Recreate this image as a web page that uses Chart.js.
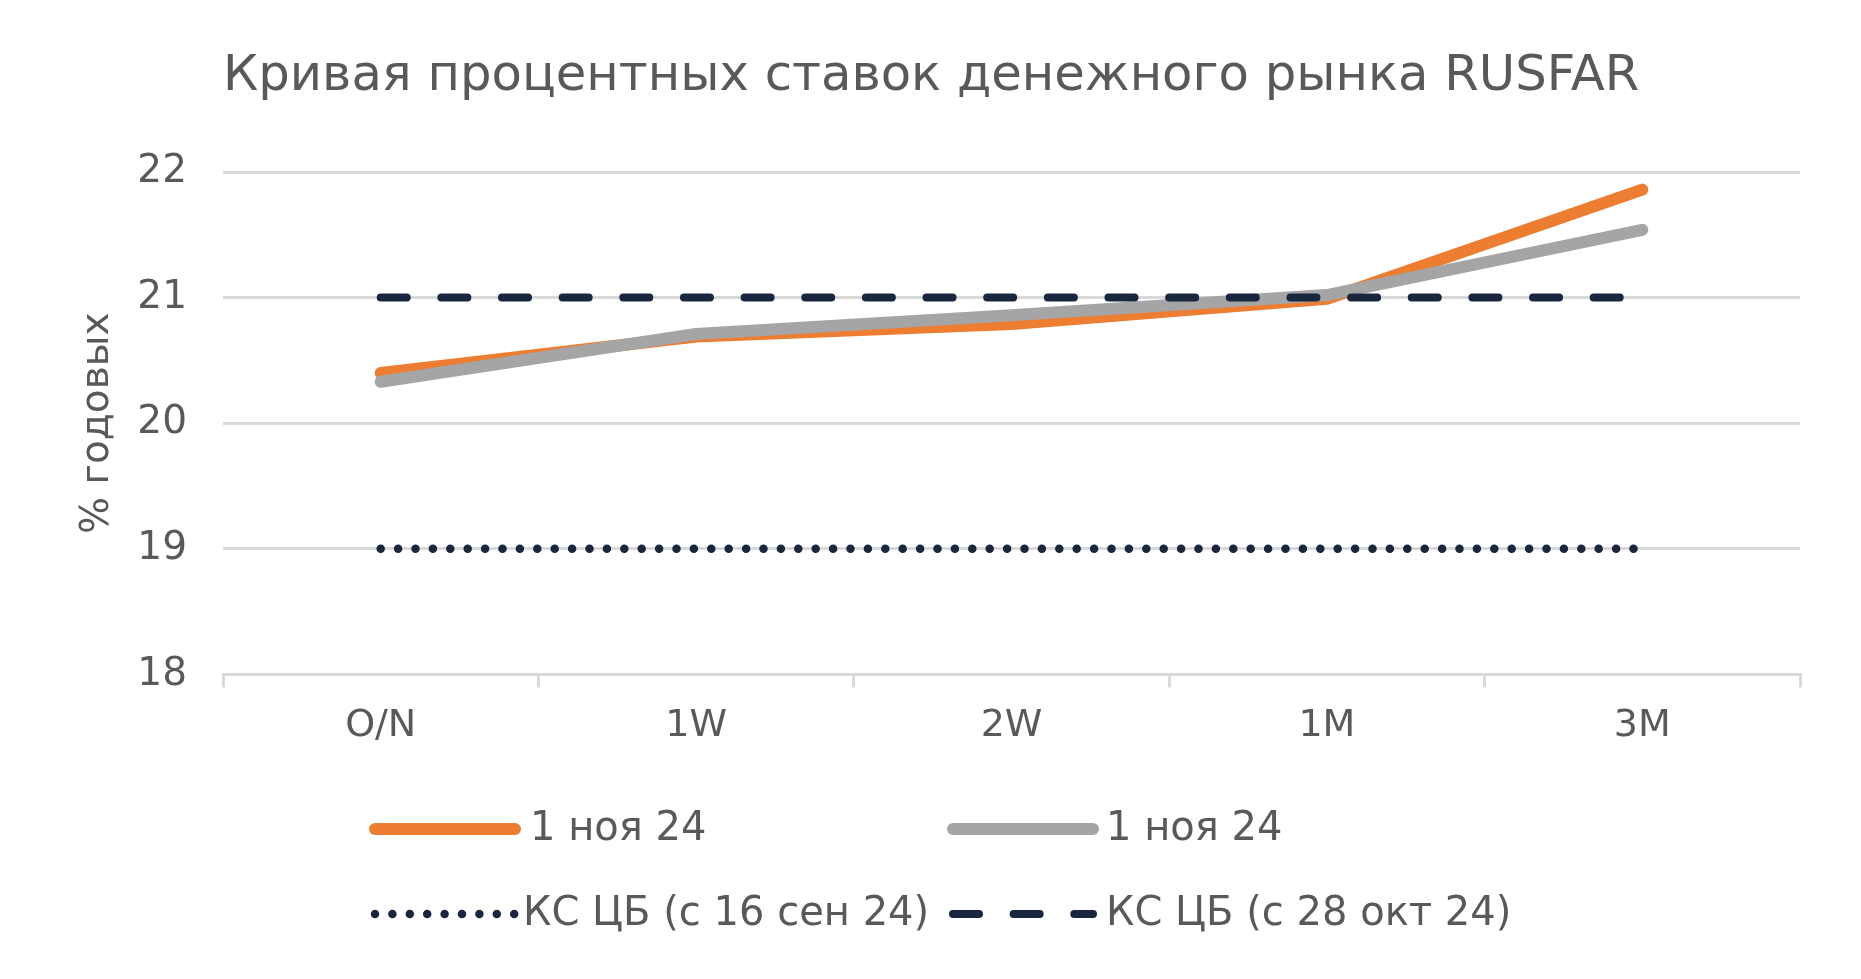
<!DOCTYPE html>
<html lang="ru">
<head>
<meta charset="utf-8">
<title>Кривая процентных ставок денежного рынка RUSFAR</title>
<script src="https://cdn.jsdelivr.net/npm/chart.js@4/dist/chart.umd.min.js"></script>
<style>
  html, body { margin: 0; padding: 0; background: #ffffff; }
  #wrap { width: 1861px; height: 979px; }
</style>
</head>
<body>
<div id="wrap"><canvas id="rusfarChart"></canvas></div>
<script>
const tenors = ['O/N', '1W', '2W', '1M', '3M'];
const rusfarNov1a = [20.40, 20.69, 20.79, 20.99, 21.86];
const rusfarNov1b = [20.33, 20.71, 20.86, 21.02, 21.54];
const keyRateSep16 = [19, 19, 19, 19, 19];
const keyRateOct28 = [21, 21, 21, 21, 21];
const yTicks = [18, 19, 20, 21, 22];

const titleText = 'Кривая процентных ставок денежного рынка RUSFAR';
const textColor = '#595959';
const gridColor = '#d9d9d9';
const navy = '#18263e';
const fontFamily = '"DejaVu Sans", sans-serif';

// legend is a 2x2 grid under the plot, in dataset order
const legendSlots = [
  { x: 375, y: 829, textX: 530 },
  { x: 953, y: 829, textX: 1106 },
  { x: 375, y: 914, textX: 523 },
  { x: 953, y: 914, textX: 1106 }
];

const areaTitle = {
  id: 'areaTitle',
  afterDraw(chart) {
    const ctx = chart.ctx;
    ctx.save();
    ctx.fillStyle = textColor;
    ctx.font = '49.7px ' + fontFamily;
    ctx.textBaseline = 'middle';
    ctx.textAlign = 'left';
    ctx.fillText(titleText, chart.chartArea.left, 77);
    ctx.restore();
  }
};

const gridLegend = {
  id: 'gridLegend',
  afterDraw(chart) {
    const ctx = chart.ctx;
    chart.data.datasets.forEach((ds, i) => {
      const slot = legendSlots[i];
      ctx.save();
      ctx.strokeStyle = ds.borderColor;
      ctx.lineWidth = ds.borderWidth;
      ctx.lineCap = ds.borderCapStyle;
      ctx.setLineDash(ds.borderDash || []);
      ctx.beginPath();
      ctx.moveTo(slot.x, slot.y);
      ctx.lineTo(slot.x + 140, slot.y);
      ctx.stroke();
      ctx.setLineDash([]);
      ctx.fillStyle = textColor;
      ctx.font = '40px ' + fontFamily;
      ctx.textBaseline = 'middle';
      ctx.fillText(ds.label, slot.textX, slot.y + 1);
      ctx.restore();
    });
  }
};

new Chart(document.getElementById('rusfarChart'), {
  type: 'line',
  data: {
    labels: tenors,
    datasets: [
      {
        label: '1 ноя 24',
        data: rusfarNov1a,
        borderColor: '#ed7d31',
        borderWidth: 12,
        borderCapStyle: 'round',
        borderJoinStyle: 'round',
        order: 2
      },
      {
        label: '1 ноя 24',
        data: rusfarNov1b,
        borderColor: '#a5a5a5',
        borderWidth: 12,
        borderCapStyle: 'round',
        borderJoinStyle: 'round',
        order: 1
      },
      {
        label: 'КС ЦБ (с 16 сен 24)',
        data: keyRateSep16,
        borderColor: navy,
        borderWidth: 8.5,
        borderCapStyle: 'round',
        borderDash: [0, 17.4],
        order: 3
      },
      {
        label: 'КС ЦБ (с 28 окт 24)',
        data: keyRateOct28,
        borderColor: navy,
        borderWidth: 8,
        borderCapStyle: 'round',
        borderDash: [26, 34.65],
        order: 0
      }
    ]
  },
  options: {
    responsive: true,
    maintainAspectRatio: false,
    animation: false,
    elements: {
      point: { radius: 0, hoverRadius: 0 },
      line: { tension: 0, fill: false }
    },
    layout: {
      padding: { top: 172, right: 61, bottom: 214, left: 55 }
    },
    plugins: {
      legend: { display: false },
      title: { display: false },
      tooltip: { enabled: false }
    },
    scales: {
      x: {
        offset: true,
        grid: {
          offset: true,
          drawOnChartArea: false,
          drawTicks: true,
          tickLength: 13,
          color: gridColor,
          lineWidth: 3
        },
        border: { display: true, color: gridColor, width: 3 },
        ticks: {
          color: textColor,
          padding: 16,
          font: { family: fontFamily, size: 38 }
        }
      },
      y: {
        min: yTicks[0],
        max: yTicks[yTicks.length - 1],
        afterBuildTicks: (axis) => {
          axis.ticks = yTicks.map((v) => ({ value: v }));
        },
        afterFit: (axis) => {
          axis.width = 168;
        },
        grid: {
          color: gridColor,
          lineWidth: 3,
          drawTicks: false
        },
        border: { display: false },
        ticks: {
          color: textColor,
          padding: 36,
          font: { family: fontFamily, size: 39 }
        },
        title: {
          display: true,
          text: '% годовых',
          color: textColor,
          padding: { top: 19, bottom: 15 },
          font: { family: fontFamily, size: 39 }
        }
      }
    }
  },
  plugins: [areaTitle, gridLegend]
});
</script>
</body>
</html>
